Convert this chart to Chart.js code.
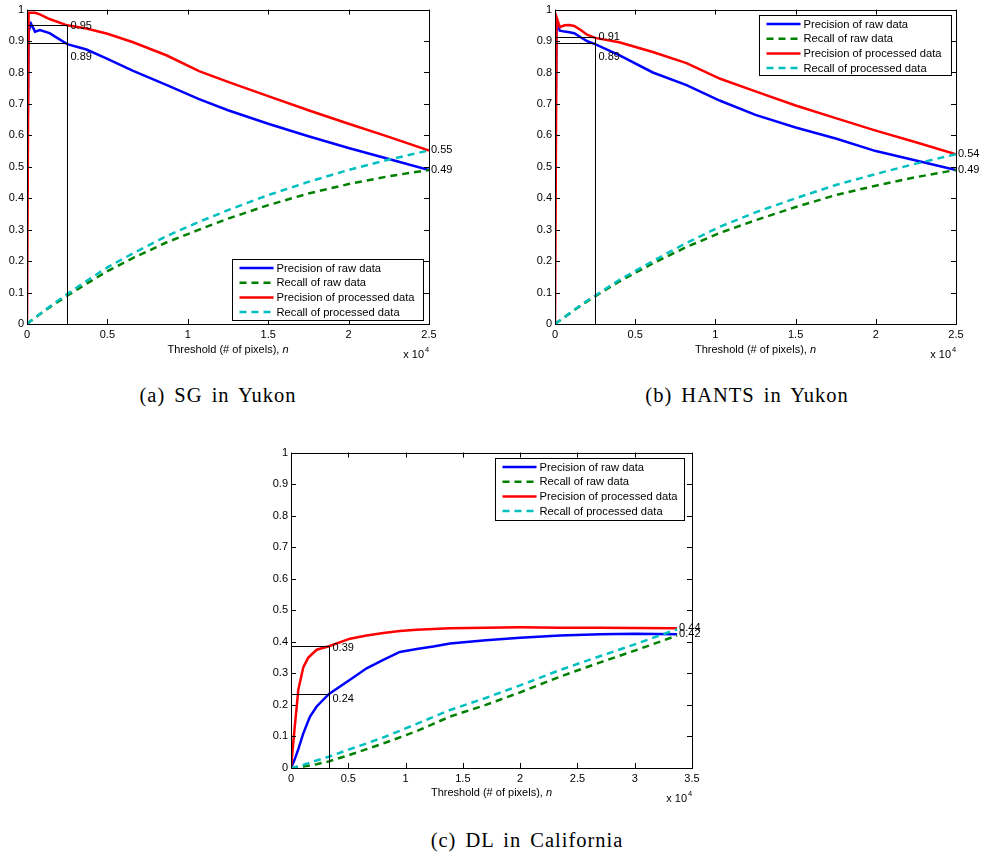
<!DOCTYPE html>
<html>
<head>
<meta charset="utf-8">
<script src="https://cdn.jsdelivr.net/npm/chart.js@4.4.1/dist/chart.umd.min.js"></script>
<style>
  body { margin: 0; background: #fff; width: 984px; height: 852px; position: relative; overflow: hidden; }
  canvas { position: absolute; }
  .cap { position: absolute; transform: translate(-50%, -50%); white-space: nowrap;
         font-family: "Liberation Serif", "DejaVu Serif", serif; font-size: 20.5px; letter-spacing: 1px; word-spacing: 3px; color: #000; }
</style>
</head>
<body>
<canvas id="chartA" width="490" height="370" style="left:0px;top:0px"></canvas>
<canvas id="chartB" width="456" height="370" style="left:528px;top:0px"></canvas>
<canvas id="chartC" width="480" height="370" style="left:264px;top:443px"></canvas>
<div class="cap" style="left:218px;top:395px">(a) SG in Yukon</div>
<div class="cap" style="left:747px;top:395px">(b) HANTS in Yukon</div>
<div class="cap" style="left:527px;top:840px">(c) DL in California</div>
<script>
// ---------- data (threshold in pixels, values 0..1) ----------
const seriesNames = ["Precision of raw data", "Recall of raw data", "Precision of processed data", "Recall of processed data"];

// (a) SG in Yukon
const xA = [0, 100, 250, 500, 800, 1400, 2500, 3700, 5000, 6600, 8700, 10700, 12500, 15000, 17500, 20000, 22500, 25000];
const precRawA  = [0.40, 0.93, 0.955, 0.93, 0.935, 0.925, 0.89, 0.873, 0.843, 0.805, 0.76, 0.715, 0.68, 0.637, 0.597, 0.56, 0.525, 0.49];
const recRawA   = [0, 0.004, 0.01, 0.02, 0.031, 0.053, 0.09, 0.128, 0.168, 0.21, 0.26, 0.30, 0.335, 0.378, 0.415, 0.445, 0.47, 0.49];
const precProcA = [0, 0.99, 0.99, 0.99, 0.985, 0.97, 0.95, 0.94, 0.923, 0.896, 0.854, 0.804, 0.77, 0.725, 0.68, 0.637, 0.595, 0.552];
const recProcA  = [0, 0.004, 0.01, 0.02, 0.032, 0.055, 0.095, 0.137, 0.18, 0.225, 0.28, 0.325, 0.362, 0.41, 0.452, 0.49, 0.523, 0.552];
const markXA = 2500;
const markYA = [0.951, 0.893];

// (b) HANTS in Yukon
const xB = [0, 100, 300, 600, 900, 1200, 1600, 2000, 2500, 4000, 6100, 8200, 10300, 12500, 15000, 17500, 20000, 22500, 25000];
const precRawB  = [0.45, 0.96, 0.933, 0.93, 0.928, 0.925, 0.912, 0.90, 0.89, 0.855, 0.80, 0.76, 0.71, 0.665, 0.625, 0.59, 0.55, 0.52, 0.49];
const recRawB   = [0, 0.004, 0.011, 0.022, 0.033, 0.044, 0.058, 0.072, 0.088, 0.135, 0.193, 0.245, 0.29, 0.33, 0.372, 0.41, 0.44, 0.467, 0.49];
const precProcB = [0, 0.975, 0.944, 0.95, 0.951, 0.948, 0.935, 0.92, 0.91, 0.896, 0.865, 0.83, 0.78, 0.74, 0.695, 0.655, 0.615, 0.578, 0.54];
const recProcB  = [0, 0.004, 0.011, 0.022, 0.033, 0.045, 0.06, 0.074, 0.09, 0.14, 0.20, 0.258, 0.31, 0.355, 0.40, 0.442, 0.477, 0.51, 0.54];
const markXB = 2500;
const markYB = [0.912, 0.893];

// (c) DL in California
const xC = [0, 300, 640, 1076, 1510, 1660, 2240, 3317, 5150, 6600, 8057, 9500, 10970, 12420, 13880, 17000, 20000, 23500, 27000, 30000, 33700];
const precRawC  = [0, 0.025, 0.06, 0.11, 0.15, 0.163, 0.195, 0.235, 0.28, 0.316, 0.343, 0.368, 0.377, 0.385, 0.395, 0.405, 0.413, 0.42, 0.424, 0.426, 0.424];
const recRawC   = [0, 0.001, 0.003, 0.005, 0.007, 0.008, 0.012, 0.021, 0.042, 0.06, 0.078, 0.097, 0.117, 0.14, 0.163, 0.20, 0.24, 0.29, 0.335, 0.372, 0.42];
const precProcC = [0, 0.12, 0.248, 0.32, 0.35, 0.355, 0.375, 0.386, 0.41, 0.42, 0.428, 0.434, 0.438, 0.441, 0.443, 0.445, 0.446, 0.445, 0.445, 0.444, 0.443];
const recProcC  = [0, 0.002, 0.006, 0.01, 0.015, 0.017, 0.024, 0.036, 0.06, 0.078, 0.097, 0.118, 0.14, 0.162, 0.184, 0.222, 0.262, 0.311, 0.355, 0.392, 0.44];
const markXC = 3300;
const markYC = [0.386, 0.236];

// ---------- styles ----------
const colors = ["#0000ff", "#008000", "#ff0000", "#00bfbf"];
const dashes = [[], [7, 5], [], [7, 5]];
const drawOrder = [3, 2, 1, 0]; // later MATLAB plots end up on top
const FONT = '"Liberation Sans", Arial, sans-serif';

// draws the MATLAB-ish box, inward ticks, marker lines, labels and legend
const matlabLook = {
    id: "matlabLook",
    afterDraw(chart, args, o) {
        const { ctx, chartArea: a, scales: { x, y } } = chart;
        ctx.save();
        ctx.fillStyle = "#000";
        ctx.strokeStyle = "#000";
        ctx.lineWidth = 1;

        // threshold marker lines
        const mx = Math.round(x.getPixelForValue(o.markX)) + 0.5;
        const mys = o.markY.map(v => Math.round(y.getPixelForValue(v)) + 0.5);
        ctx.beginPath();
        ctx.moveTo(mx, a.bottom);
        ctx.lineTo(mx, Math.min(...mys));
        mys.forEach(py => { ctx.moveTo(a.left, py); ctx.lineTo(mx, py); });
        ctx.stroke();

        ctx.font = "11px " + FONT;
        ctx.textBaseline = "middle";
        ctx.textAlign = "left";
        o.markY.forEach((v, i) => ctx.fillText(v.toFixed(2), mx + 3, mys[i] + o.markDy[i]));

        // end-of-curve labels (precision curves)
        [0, 2].forEach(di => {
            const d = chart.data.datasets[di].data;
            const last = d[d.length - 1];
            ctx.fillText(last.y.toFixed(2), x.getPixelForValue(last.x) + 2, y.getPixelForValue(last.y));
        });

        // box
        ctx.strokeRect(Math.round(a.left) + 0.5, Math.round(a.top) + 0.5, Math.round(a.width), Math.round(a.height));

        // inward ticks on all four sides
        const tl = 5;
        ctx.beginPath();
        x.ticks.forEach(t => {
            const px = Math.round(x.getPixelForValue(t.value)) + 0.5;
            ctx.moveTo(px, a.bottom); ctx.lineTo(px, a.bottom - tl);
            ctx.moveTo(px, a.top); ctx.lineTo(px, a.top + tl);
        });
        y.ticks.forEach(t => {
            const py = Math.round(y.getPixelForValue(t.value)) + 0.5;
            ctx.moveTo(a.left, py); ctx.lineTo(a.left + tl, py);
            ctx.moveTo(a.right, py); ctx.lineTo(a.right - tl, py);
        });
        ctx.stroke();

        // x label with italic n
        const lab = "Threshold (# of pixels), ";
        ctx.font = "11px " + FONT;
        const w1 = ctx.measureText(lab).width;
        ctx.font = "italic 11px " + FONT;
        const w2 = ctx.measureText("n").width;
        const lx = (a.left + a.right) / 2 - (w1 + w2) / 2;
        const ly = a.bottom + o.xlabelDy;
        ctx.font = "11px " + FONT;
        ctx.fillText(lab, lx, ly);
        ctx.font = "italic 11px " + FONT;
        ctx.fillText("n", lx + w1, ly);

        // x 10^4
        ctx.font = "11px " + FONT;
        ctx.textAlign = "right";
        ctx.fillText("x 10", a.right - 5, a.bottom + 31);
        ctx.textAlign = "left";
        ctx.font = "7.5px " + FONT;
        ctx.fillText("4", a.right - 4, a.bottom + 26);

        // legend
        const L = o.legend;
        const lx0 = Math.round(a.right - L.right - L.w) + 0.5;
        const ly0 = L.top != null ? Math.round(a.top + L.top) + 0.5 : Math.round(a.bottom - L.bottom - L.h) + 0.5;
        ctx.fillStyle = "#fff";
        ctx.fillRect(lx0, ly0, L.w, L.h);
        ctx.strokeStyle = "#000";
        ctx.lineWidth = 1;
        ctx.strokeRect(lx0, ly0, L.w, L.h);
        ctx.font = "11.2px " + FONT;
        ctx.textAlign = "left";
        chart.data.datasets.forEach((ds, i) => {
            const ry = ly0 + 8.5 + i * 14.7;
            ctx.strokeStyle = ds.borderColor;
            ctx.lineWidth = 2.5;
            ctx.setLineDash(ds.borderDash);
            ctx.beginPath();
            ctx.moveTo(lx0 + 7, ry);
            ctx.lineTo(lx0 + 41, ry);
            ctx.stroke();
            ctx.setLineDash([]);
            ctx.fillStyle = "#000";
            ctx.fillText(ds.label, lx0 + 44, ry + 0.5);
        });
        ctx.restore();
    }
};

function makeChart(id, xs, series, xMax, xAxisH, pad, look) {
    const datasets = series.map((ys, i) => ({
        label: seriesNames[i],
        data: xs.map((xv, j) => ({ x: xv, y: ys[j] })),
        borderColor: colors[i],
        borderDash: dashes[i],
        borderWidth: 2.5,
        pointRadius: 0,
        tension: 0,
        fill: false,
        order: drawOrder[i]
    }));
    return new Chart(document.getElementById(id), {
        type: "line",
        data: { datasets: datasets },
        plugins: [matlabLook],
        options: {
            responsive: false,
            animation: false,
            layout: { padding: pad },
            plugins: { legend: { display: false }, tooltip: { enabled: false }, matlabLook: look },
            scales: {
                x: {
                    type: "linear", min: 0, max: xMax,
                    grid: { display: false, drawTicks: false },
                    border: { display: false },
                    ticks: { stepSize: 5000, padding: 4, color: "#000", font: { family: FONT, size: 11 },
                             maxRotation: 0, autoSkip: false,
                             callback: v => String(Math.round(v / 1000) / 10) },
                    afterFit: s => { s.height = xAxisH; }
                },
                y: {
                    min: 0, max: 1,
                    grid: { display: false, drawTicks: false },
                    border: { display: false },
                    ticks: { stepSize: 0.1, padding: 3, color: "#000", font: { family: FONT, size: 11 },
                             autoSkip: false,
                             callback: v => String(Math.round(v * 10) / 10) },
                    afterFit: s => { s.width = 27; }
                }
            }
        }
    });
}

makeChart("chartA", xA, [precRawA, recRawA, precProcA, recProcA], 25000, 46,
    { left: 0, top: 9, right: 61, bottom: 0 },
    { markX: markXA, markY: markYA, markDy: [0, 13], xlabelDy: 26,
      legend: { w: 191, h: 61, right: 6, bottom: 4 } });

makeChart("chartB", xB, [precRawB, recRawB, precProcB, recProcB], 25000, 46,
    { left: 0, top: 9, right: 28, bottom: 0 },
    { markX: markXB, markY: markYB, markDy: [-1, 13], xlabelDy: 26,
      legend: { w: 192, h: 60, right: 5, top: 5 } });

makeChart("chartC", xC, [precRawC, recRawC, precProcC, recProcC], 35000, 45,
    { left: 0, top: 9, right: 52, bottom: 0 },
    { markX: markXC, markY: markYC, markDy: [1, 4], xlabelDy: 25,
      legend: { w: 189, h: 62, right: 8, top: 5 } });
</script>
</body>
</html>
